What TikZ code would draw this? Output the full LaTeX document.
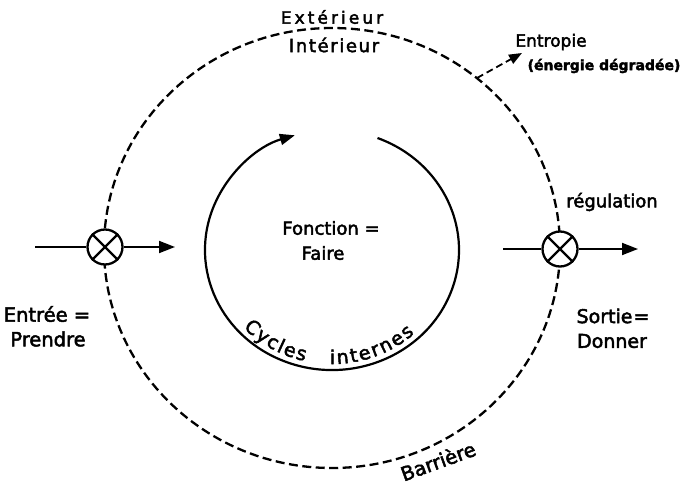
\documentclass[tikz,border=0pt]{standalone}
\usepackage{fontspec}
\setmainfont{DejaVu Sans}[FakeBold=2.5]
\usetikzlibrary{arrows.meta,decorations.text}
\newcommand\myfs[1]{\fontsize{#1}{#1}\selectfont}
\begin{document}
\begin{tikzpicture}[x=1pt,y=1pt,
  barrier/.style={line width=2.3pt, dash pattern=on 9pt off 4.5pt},
  cyc/.style={line width=2.2pt},
  flow/.style={line width=1.8pt},
  tip/.style={-{Triangle[length=16pt,width=12pt]}},
  xnode/.style={circle, draw, line width=2.3pt, fill=white, minimum size=35pt, inner sep=0pt},
  lab/.style={inner sep=0pt},
]
\useasboundingbox (0,0) rectangle (684,485);
% outer barrier
\draw[barrier] (332,237) ellipse [x radius=228, y radius=220];
% internal cycle
\draw[cyc, -{Triangle[length=15pt,width=11pt]}] (377.5,347) arc[start angle=69, end angle=-253, x radius=127, y radius=120];
% cross nodes
\node[xnode] (cl) at (105,238) {};
\draw[line width=2.2pt] (cl.north west) -- (cl.south east) (cl.north east) -- (cl.south west);
\node[xnode] (cr) at (560,236) {};
\draw[line width=2.2pt] (cr.north west) -- (cr.south east) (cr.north east) -- (cr.south west);
\coordinate (inL) at (35,238);
\coordinate (outL) at (175,238);
\coordinate (inR) at (503,236);
\coordinate (outR) at (638,236);
\draw[flow] (inL) -- (cl.west);
\draw[flow,tip] (cl.east) -- (outL);
\draw[flow] (inR) -- (cr.west);
\draw[flow,tip] (cr.east) -- (outR);
% entropy arrow
\coordinate (eS) at (477,407);
\coordinate (eT) at (522,432);
\draw[line width=1.8pt, dash pattern=on 7pt off 4pt, -{Triangle[length=13pt,width=10pt]}] (eS) -- (eT);
% labels
\node[lab, font=\myfs{17}\addfontfeature{LetterSpace=18}] (ext) at (332,468) {Extérieur};
\node[lab, font=\myfs{18}\addfontfeature{LetterSpace=9}] (int) at (334,440) {Intérieur};
\node[lab, font=\myfs{17}] (ent) at (551,443) {Entropie};
\node[lab, font=\myfs{14}\bfseries] (deg) at (604,419) {(énergie dégradée)};
\node[lab, font=\myfs{18}] (reg) at (612,283) {régulation};
\node[lab, font=\myfs{19}] (sor) at (613,169) {Sortie\kern1pt=};
\node[lab, font=\myfs{19}] (don) at (612,144) {Donner};
\node[lab, font=\myfs{19.5}] (entr) at (47,171) {Entrée =};
\node[lab, font=\myfs{19.5}] (pre) at (48,146) {Prendre};
\node[lab, font=\myfs{18}] (fon) at (331,257) {Fonction =};
\node[lab, font=\myfs{18}] (fai) at (323,232) {Faire};
\node[lab, font=\myfs{19.5}, rotate=20] (bar) at (438,24) {Barrière};
% curved text
\path[decorate, decoration={text along path, text={|\myfs{19}|Cycles}, text align=fit to path}]
  (243.5,157.3) arc[start angle=-137, end angle=-103, x radius=121, y radius=114];
\path[decorate, decoration={text along path, text={|\myfs{19}|internes}, text align=fit to path}]
  (329.9,121) arc[start angle=-91, end angle=-47, x radius=121, y radius=114];
\end{tikzpicture}
\end{document}
